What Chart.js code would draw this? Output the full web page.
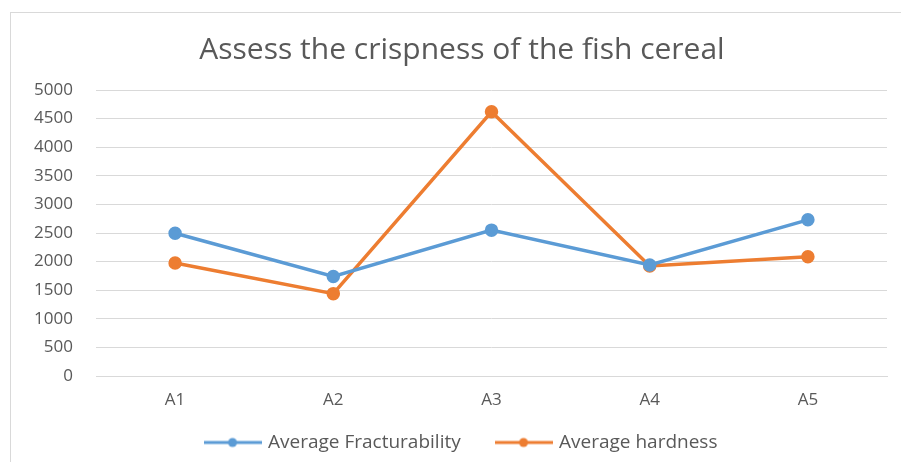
<!DOCTYPE html>
<html lang="en">
<head>
    <meta charset="UTF-8">
    <title>Fish cereal crispness</title>
    <script src="https://cdn.jsdelivr.net/npm/chart.js"></script>
    <style>
        html, body { margin: 0; padding: 0; background: #fff; overflow: hidden; }
        .frame {
            position: absolute;
            left: 10px; top: 12px;
            width: 900px; height: 460px;
            border: 1px solid #d9d9d9;
            box-sizing: border-box;
        }
        .chart-wrapper { position: absolute; left: 0; top: 0; width: 938px; height: 462px; }
        canvas { width: 100% !important; height: 100% !important; }
    </style>
</head>
<body>
    <div class="frame"></div>
    <div class="chart-wrapper"><canvas id="chart"></canvas></div>

    <script>
        const categories = ["A1", "A2", "A3", "A4", "A5"];
        const fracturability = [2495, 1740, 2550, 1940, 2730];
        const hardness = [1975, 1440, 4620, 1925, 2085];
        const yTicks = [0, 500, 1000, 1500, 2000, 2500, 3000, 3500, 4000, 4500, 5000];

        const blue = '#5B9BD5';
        const orange = '#ED7D31';
        const textGray = '#595959';

        // legend marker: short line with a dot, like Excel
        function legendMarker(color) {
            const c = document.createElement('canvas');
            c.width = 58; c.height = 12;
            const g = c.getContext('2d');
            g.strokeStyle = color;
            g.lineWidth = 3;
            g.beginPath(); g.moveTo(0, 6); g.lineTo(58, 6); g.stroke();
            g.fillStyle = color;
            g.beginPath(); g.arc(29, 6, 4.5, 0, Math.PI * 2); g.fill();
            return c;
        }

        new Chart(document.getElementById('chart'), {
            type: 'line',
            data: {
                labels: categories,
                datasets: [{
                    label: 'Average Fracturability',
                    data: fracturability,
                    borderColor: blue,
                    backgroundColor: blue,
                    borderWidth: 3.5,
                    pointRadius: 5,
                    tension: 0
                }, {
                    label: 'Average hardness',
                    data: hardness,
                    borderColor: orange,
                    backgroundColor: orange,
                    borderWidth: 3.5,
                    pointRadius: 5,
                    tension: 0
                }]
            },
            options: {
                responsive: true,
                maintainAspectRatio: false,
                animation: false,
                layout: { padding: { left: 0, right: 14, top: 0, bottom: 0 } },
                plugins: {
                    title: {
                        display: true,
                        text: 'Assess the crispness of the fish cereal',
                        color: textGray,
                        font: { family: 'Open Sans', size: 30, weight: 'normal' },
                        padding: { top: 32, bottom: 22 }
                    },
                    legend: {
                        position: 'bottom',
                        labels: {
                            color: textGray,
                            font: { family: 'Open Sans', size: 19 },
                            usePointStyle: true,
                            pointStyleWidth: 52,
                            padding: 22,
                            // trailing spaces widen the gap between the two entries
                            generateLabels: chart => chart.data.datasets.map((ds, i) => ({
                                text: i === 0 ? ds.label + '   ' : ds.label,
                                fontColor: textGray,
                                pointStyle: legendMarker(ds.borderColor),
                                datasetIndex: i,
                                lineWidth: 0
                            }))
                        }
                    },
                    tooltip: { enabled: false }
                },
                scales: {
                    x: {
                        offset: true,
                        afterFit: axis => { axis.height = 35; },
                        grid: { display: false, drawTicks: false },
                        border: { color: '#d9d9d9', width: 1 },
                        ticks: { color: textGray, font: { family: 'Open Sans', size: 17 }, padding: 14 }
                    },
                    y: {
                        min: 0,
                        max: 5000,
                        afterBuildTicks: axis => { axis.ticks = yTicks.map(v => ({ value: v })); },
                        afterFit: axis => { axis.width = 96; },
                        grid: { color: '#d9d9d9', drawTicks: false },
                        border: { display: false },
                        ticks: {
                            color: textGray,
                            font: { family: 'Open Sans', size: 17 },
                            padding: 23,
                            callback: v => String(v)
                        }
                    },
                    // empty right-hand axis so the title centres like the original
                    yRight: {
                        position: 'right',
                        min: 0,
                        max: 5000,
                        afterFit: axis => { axis.width = 37; },
                        grid: { display: false, drawTicks: false },
                        border: { display: false },
                        ticks: { display: false }
                    }
                }
            }
        });
    </script>
</body>
</html>
